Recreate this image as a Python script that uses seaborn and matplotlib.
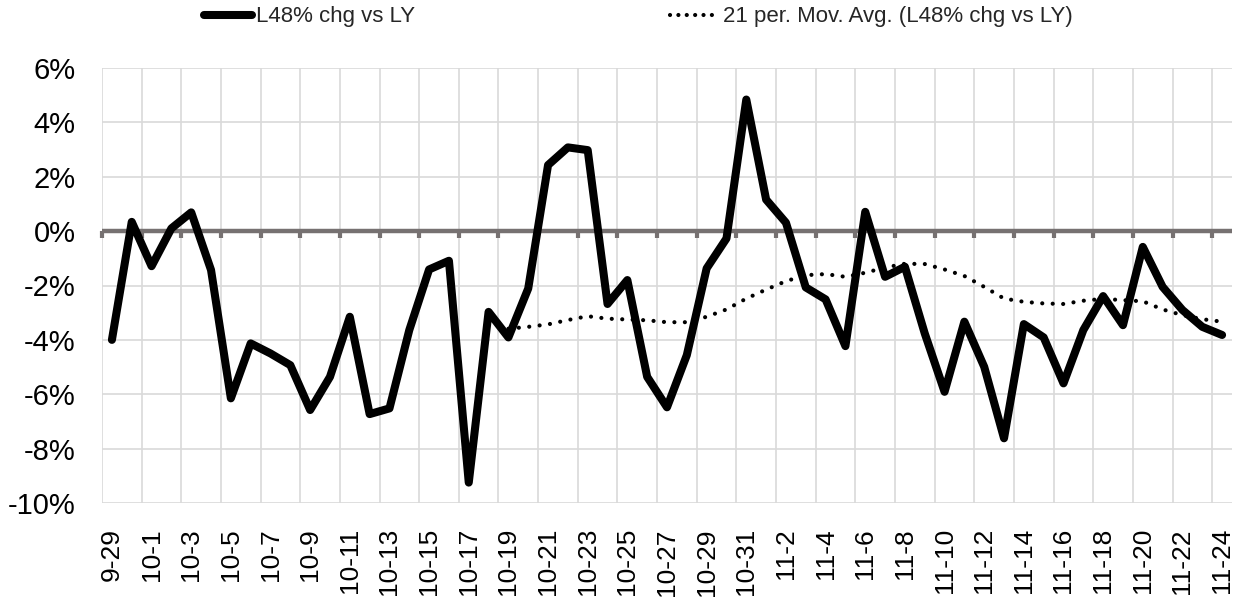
import matplotlib
matplotlib.use("Agg")
import matplotlib.pyplot as plt
import seaborn as sns
import pandas as pd
import numpy as np
from matplotlib.lines import Line2D

dates = ["9-29", "9-30",
         "10-1", "10-2", "10-3", "10-4", "10-5", "10-6", "10-7", "10-8", "10-9", "10-10",
         "10-11", "10-12", "10-13", "10-14", "10-15", "10-16", "10-17", "10-18", "10-19", "10-20",
         "10-21", "10-22", "10-23", "10-24", "10-25", "10-26", "10-27", "10-28", "10-29", "10-30", "10-31",
         "11-1", "11-2", "11-3", "11-4", "11-5", "11-6", "11-7", "11-8", "11-9", "11-10",
         "11-11", "11-12", "11-13", "11-14", "11-15", "11-16", "11-17", "11-18", "11-19", "11-20",
         "11-21", "11-22", "11-23", "11-24"]

l48_chg = [-4.00, 0.34, -1.29, 0.10, 0.69, -1.43, -6.15, -4.13, -4.50, -4.93,
           -6.58, -5.36, -3.15, -6.73, -6.52, -3.64, -1.41, -1.09, -9.25, -2.97,
           -3.91, -2.11, 2.43, 3.08, 2.98, -2.68, -1.80, -5.36, -6.48, -4.56,
           -1.37, -0.27, 4.84, 1.16, 0.31, -2.07, -2.51, -4.23, 0.71, -1.68,
           -1.31, -3.76, -5.91, -3.33, -4.99, -7.62, -3.42, -3.91, -5.60, -3.64,
           -2.39, -3.46, -0.58, -2.05, -2.90, -3.52, -3.82]

# 21-period moving average, starts at the 21st point (10-19)
mov_avg = [-3.59, -3.52, -3.43, -3.27, -3.13, -3.22, -3.25, -3.28, -3.35, -3.35,
           -3.15, -2.88, -2.48, -2.15, -1.84, -1.62, -1.58, -1.68, -1.53, -1.34,
           -1.20, -1.21, -1.41, -1.65, -2.05, -2.48, -2.60, -2.66, -2.68, -2.56,
           -2.49, -2.54, -2.58, -2.88, -3.09, -3.24, -3.33]

y_ticks = [-10, -8, -6, -4, -2, 0, 2, 4, 6]

label_main = "L48% chg vs LY"
label_ma = "21 per. Mov. Avg. (L48% chg vs LY)"

sns.set_style("white")
plt.rcParams['font.family'] = ['Liberation Sans', 'DejaVu Sans']

n = len(dates)
idx = np.arange(n)
df_main = pd.DataFrame({"x": idx, "y": l48_chg})
ma_start = n - len(mov_avg)
df_ma = pd.DataFrame({"x": idx[ma_start:], "y": mov_avg})

fig = plt.figure(figsize=(12.46, 6.0), dpi=100)
ax = fig.add_axes([102 / 1246, 1 - 503 / 600, (1232 - 102) / 1246, (503 - 68) / 600])

grid_c = "#d9d9d9"
axis_gray = "#767171"

# zero axis line with tick marks (secondary x axis at y=0)
y_min, y_max = -10, 6
sec = ax.secondary_xaxis((0 - y_min) / (y_max - y_min))
sec.set_alignment('bottom')
sec.spines['bottom'].set_visible(True)
sec.spines['bottom'].set_color(axis_gray)
sec.spines['bottom'].set_linewidth(3.2)
sec.spines['bottom'].set_capstyle('butt')
sec.spines['top'].set_visible(False)
sec.set_xticks(np.arange(-0.5, n - 1, 2))
sec.tick_params(axis='x', which='both', bottom=True, top=False, direction='out',
                length=5, width=3.0, color=axis_gray,
                labelbottom=False, labeltop=False)
sec.set_zorder(3)

sns.lineplot(data=df_main, x="x", y="y", ax=ax, color="black", linewidth=5.8,
             solid_joinstyle='round', solid_capstyle='round', zorder=5)
sns.lineplot(data=df_ma, x="x", y="y", ax=ax, color="black", linewidth=3.0,
             dashes=False, zorder=4)
ma_line = ax.lines[-1]
ma_line.set_dashes((0.01, 2.5))
ma_line.set_dash_capstyle('round')

ax.set_xlim(-0.5, n - 0.5)
ax.set_ylim(y_min, y_max)

ax.set_yticks(y_ticks)
ax.set_yticklabels([f"{v:d}%" for v in y_ticks])
ax.set_xticks(idx[::2])
ax.set_xticklabels(dates[::2], rotation=90, va='top', ha='center')
ax.set_xticks(np.arange(-0.5, n - 1, 2), minor=True)

ax.tick_params(axis='y', length=0, pad=19, labelsize=21, labelcolor="black")
ax.tick_params(axis='x', which='major', length=0, pad=18, labelsize=19, labelcolor="black")
ax.tick_params(axis='x', which='minor', length=0)

ax.grid(False)
ax.yaxis.grid(True, color=grid_c, linewidth=1.2)
ax.xaxis.grid(True, which='minor', color=grid_c, linewidth=1.2)
ax.set_axisbelow(True)
for s in ax.spines.values():
    s.set_visible(False)
ax.set_xlabel("")
ax.set_ylabel("")

handles = [Line2D([], [], color="black", linewidth=5.8, solid_capstyle='round'),
           Line2D([], [], color="black", linewidth=3.0, dashes=(0.01, 2.0),
                  dash_capstyle='round')]
fig.legend(handles, [label_main, label_ma], loc='center', bbox_to_anchor=(0.512, 0.972),
           ncol=2, frameon=False, fontsize=16, handlelength=2.2, handletextpad=0.15,
           columnspacing=11.5)

fig.savefig("out.png", dpi=100)
